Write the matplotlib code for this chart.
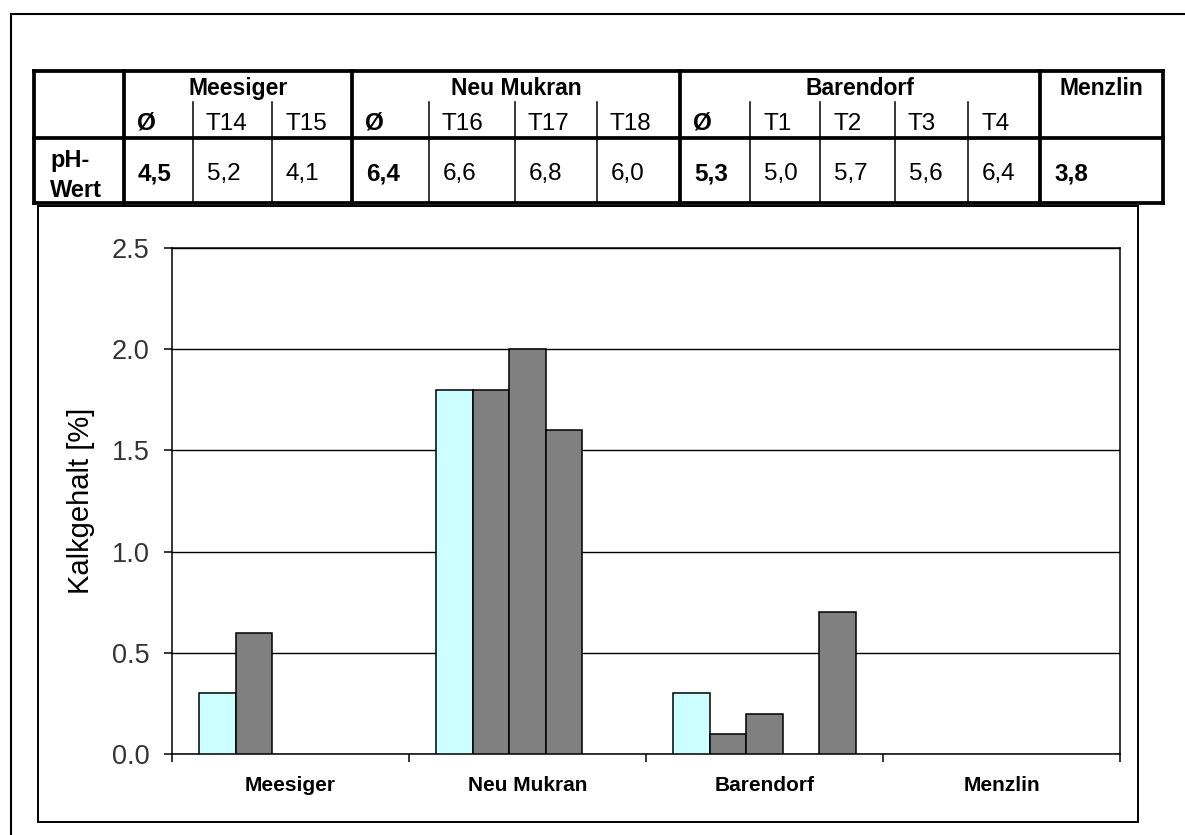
import numpy as np
import matplotlib.pyplot as plt
from matplotlib.lines import Line2D
from matplotlib.patches import Rectangle

W, H = 1185, 835

# chart data (Kalkgehalt in %), one array per bar slot in each site group
sites = ["Meesiger", "Neu Mukran", "Barendorf", "Menzlin"]
kalk_avg = [0.3, 1.8, 0.3, np.nan]
kalk_s1 = [0.6, 1.8, 0.1, np.nan]
kalk_s2 = [np.nan, 2.0, 0.2, np.nan]
kalk_s3 = [np.nan, 1.6, np.nan, np.nan]
kalk_s4 = [np.nan, np.nan, 0.7, np.nan]
y_ticks = [0.0, 0.5, 1.0, 1.5, 2.0, 2.5]

# table above the chart
group_names = ["Meesiger", "Neu Mukran", "Barendorf", "Menzlin"]
group_sizes = [3, 4, 5, 1]
sub_cols = ["Ø", "T14", "T15", "Ø", "T16", "T17", "T18", "Ø", "T1", "T2", "T3", "T4", ""]
ph_values = ["4,5", "5,2", "4,1", "6,4", "6,6", "6,8", "6,0", "5,3", "5,0", "5,7", "5,6", "6,4", "3,8"]

plt.rcParams['font.family'] = ['Liberation Sans', 'DejaVu Sans']


def fx(x):
    return x / W


def fy(y):
    return 1 - y / H


def line(fig, x0, y0, x1, y1, lw):
    fig.add_artist(Line2D([fx(x0), fx(x1)], [fy(y0), fy(y1)], transform=fig.transFigure,
                          color="black", linewidth=lw, solid_capstyle="projecting"))


fig = plt.figure(figsize=(W / 100, H / 100), dpi=100)

# outer frame (open to the right/bottom)
line(fig, 11, 835, 11, 14, 1.5)
line(fig, 11, 14, 1185, 14, 1.5)

# chart frame
fig.add_artist(Rectangle((fx(38), fy(822)), fx(1138) - fx(38), fy(206) - fy(822),
                         transform=fig.transFigure, facecolor="white", edgecolor="black",
                         linewidth=1.4, zorder=-5))

# --- table ---
edges = [34, 124, 193, 272, 352, 429, 515, 597, 680, 750, 820, 895, 968, 1040, 1163]
t_top, t_mid, t_hdr, t_bot = 71, 102, 138, 203
thick, thin = 2.7, 1.1

line(fig, edges[0], t_top, edges[-1], t_top, thick)
line(fig, edges[0], t_bot, edges[-1], t_bot, thick)
line(fig, edges[0], t_hdr, edges[-1], t_hdr, thick)
line(fig, edges[0], t_top, edges[0], t_bot, thick)
line(fig, edges[-1], t_top, edges[-1], t_bot, thick)

col = 1
for name, n in zip(group_names, group_sizes):
    left, right = edges[col], edges[col + n]
    line(fig, left, t_top, left, t_bot, thick)
    for k in range(col + 1, col + n):
        line(fig, edges[k], t_mid, edges[k], t_bot, thin)
    fig.text(fx((left + right) / 2), fy(95), name, ha="center", va="baseline",
             fontsize=16.5, fontweight="bold")
    col += n

fig.text(fx(50), fy(167), "pH-", ha="left", va="baseline", fontsize=17, fontweight="bold")
fig.text(fx(50), fy(197), "Wert", ha="left", va="baseline", fontsize=17, fontweight="bold")

for i, (sc, val) in enumerate(zip(sub_cols, ph_values)):
    left = edges[i + 1]
    bold = sc == "Ø" or sc == ""
    if sc:
        fig.text(fx(left + 13), fy(130), sc, ha="left", va="baseline", fontsize=17.5,
                 fontweight="bold" if sc == "Ø" else "normal")
    fig.text(fx(left + 14), fy(180), val, ha="left", va="baseline", fontsize=17.5,
             fontweight="bold" if bold else "normal")

# --- bar chart ---
ax = fig.add_axes([fx(172), fy(754), fx(1120) - fx(172), fy(248) - fy(754)])
ax.set_zorder(2)
x = np.arange(len(sites))
w = 0.1545
series = [kalk_avg, kalk_s1, kalk_s2, kalk_s3, kalk_s4]
for i, vals in enumerate(series):
    ax.bar(x + (i - 2) * w, vals, width=w, color="#CCFFFF" if i == 0 else "#808080",
           edgecolor="black", linewidth=1.1, zorder=3)

ax.set_xlim(-0.5, len(sites) - 0.5)
ax.set_ylim(0, 2.5)
ax.set_yticks(y_ticks)
ax.set_yticklabels([f"{v:.1f}" for v in y_ticks], fontsize=19.5, color="#333333")
ax.yaxis.grid(True, color="black", linewidth=1.0, zorder=0)
ax.set_axisbelow(True)
ax.set_xticks(x)
ax.set_xticklabels(sites, fontsize=15, fontweight="bold")
ax.set_xticks(np.arange(len(sites) + 1) - 0.5, minor=True)
ax.tick_params(axis="x", which="major", length=0, pad=16)
ax.tick_params(axis="x", which="minor", length=5.5, width=1.1, direction="out")
ax.tick_params(axis="y", length=6, width=1.1, pad=10)
for s in ax.spines.values():
    s.set_linewidth(1.1)
    s.set_color("black")

fig.text(fx(81), fy(501), "Kalkgehalt [%]", rotation=90, ha="center", va="center", fontsize=21)

fig.savefig("out.png", dpi=100)
